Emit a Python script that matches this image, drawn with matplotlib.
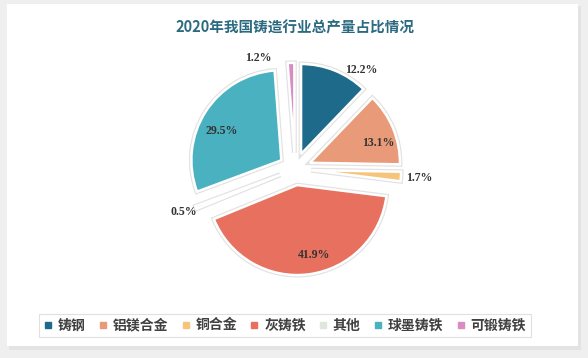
import numpy as np
import matplotlib.pyplot as plt
from matplotlib.patches import Rectangle
from matplotlib.lines import Line2D

plt.rcParams['font.family'] = ['Noto Sans CJK SC', 'DejaVu Sans']

# 数据
categories = ["铸钢", "铝镁合金", "铜合金", "灰铸铁", "其他", "球墨铸铁", "可锻铸铁"]
shares = [12.2, 13.1, 1.7, 41.9, 0.5, 29.5, 1.2]
colors = ["#1d6a8b", "#e99a78", "#f7c47c", "#e8705f", "#dfe6dc", "#49b1bf", "#d98cbf"]
title = "2020年我国铸造行业总产量占比情况"

# 标签位置 (相对半径, 角度偏移)
label_r = [1.32, 0.97, 1.38, 0.98, 1.33, 0.92, 1.30]
label_dtheta = [-12, -5, 0, 5, 0, 5, 16]

W, H = 588, 358
fig = plt.figure(figsize=(W / 100, H / 100), dpi=100)
fig.patch.set_facecolor("#efefef")

# 卡片背景
bg = fig.add_axes([0, 0, 1, 1])
bg.set_xlim(0, W)
bg.set_ylim(H, 0)
bg.axis("off")
bg.add_patch(Rectangle((9, 6), 572, 344, facecolor="#e3e3e3", edgecolor="none"))
bg.add_patch(Rectangle((7, 4), 571, 342, facecolor="white", edgecolor="none"))

fig.text(295 / W, 1 - 28 / H, title, ha="center", va="center",
         fontsize=10.5, fontweight="bold", color="#2b6a80")

# 饼图
R = 90
cx, cy = 295, 169
half = 130
ax = fig.add_axes([(cx - half) / W, (H - cy - half) / H, 2 * half / W, 2 * half / H])
lim = half / R
explode = [0.18] * len(shares)
ax.pie(shares, colors=["none"] * len(shares), explode=explode, startangle=90, counterclock=False,
       radius=1, wedgeprops=dict(edgecolor="#e2e2e2", linewidth=3.5))
wedges, _ = ax.pie(shares, colors=colors, explode=explode, startangle=90, counterclock=False,
                   radius=1, wedgeprops=dict(edgecolor="white", linewidth=1.8))
ax.set_xlim(-lim, lim)
ax.set_ylim(-lim, lim)
ax.set_aspect("equal")
ax.axis("off")

for w, v, r, dt in zip(wedges, shares, label_r, label_dtheta):
    ang = np.deg2rad((w.theta1 + w.theta2) / 2 + dt)
    ax.text(r * np.cos(ang), r * np.sin(ang), f"{v}%", ha="center", va="center",
            fontsize=8.5, fontweight="bold", color="#333333", family="Liberation Serif")

handles = [Line2D([], [], marker="s", linestyle="none", markersize=4.5,
                  markerfacecolor=c, markeredgecolor=c) for c in colors]
leg = fig.legend(handles, categories, ncol=7, loc="center", bbox_to_anchor=(285 / W, 1 - 325.5 / H),
                 frameon=True, fancybox=False, fontsize=10, handlelength=0.6, handletextpad=0.4,
                 columnspacing=0.95, borderpad=0.35, labelcolor="#404040")
leg.get_frame().set_edgecolor("#d9d9d9")
leg.get_frame().set_linewidth(0.8)
for t in leg.get_texts():
    t.set_fontweight("bold")

fig.savefig("out.png", dpi=100, facecolor=fig.get_facecolor())
